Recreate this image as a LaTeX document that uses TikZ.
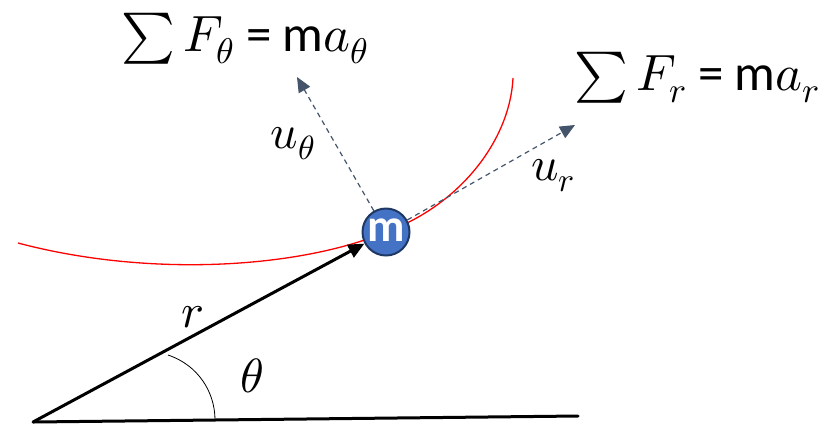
\documentclass[tikz,border=0pt]{standalone}
\usepackage{fontspec}
\usepackage{unicode-math}
\setmainfont{Carlito}
\setmathfont{Latin Modern Math}
\usetikzlibrary{arrows.meta}
\definecolor{massblue}{HTML}{4472C4}
\definecolor{massedge}{HTML}{1F3864}
\definecolor{dashcol}{HTML}{44546A}
\tikzset{
  big/.style={font=\fontsize{51}{56}\selectfont, inner sep=0pt},
  lbl/.style={font=\fontsize{48}{54}\selectfont, inner sep=0pt},
  unitvec/.style={draw=dashcol, dashed, line width=1.2pt, dash pattern=on 5pt off 4pt,
     -{Triangle[length=15pt,width=13pt,fill=dashcol]}},
  massnode/.style={circle, fill=massblue, draw=massedge, line width=2pt, minimum size=47pt, inner sep=0pt,
     text=white, font=\fontsize{46}{46}\selectfont\bfseries},
}
\begin{document}
\begin{tikzpicture}[x=1pt,y=-1pt]
\useasboundingbox (0,0) rectangle (826,424);
% path curve
\draw[red, line width=1.3pt] (18,243) .. controls (150,278) and (300,268) .. (386,232)
   .. controls (460,205) and (510,140) .. (513,78);
\coordinate (O) at (33,422);
\coordinate (H) at (578,416);
\coordinate (uthend) at (297,77);
\coordinate (urend) at (575,125);
\node[massnode] (m) at (386,232) {\raisebox{3pt}{m}};
\draw[line width=3pt, line cap=round] (O) -- (H);
\draw[line width=3pt, -{Triangle[length=16pt,width=14pt]}] (O) -- (m);
\draw[line width=0.8pt] (168,355) .. controls (198,365) and (215,392) .. (215,420);
\draw[unitvec] (m) -- (uthend);
\draw[unitvec] (m) -- (urend);
\node[big, anchor=base] (eq1) at (245,51) {$\sum F_{\theta}$ = m$a_{\theta}$};
\node[big, anchor=base] (eq2) at (697,90) {$\sum F_{r}$ = m$a_{r}$};
\node[lbl, anchor=base] (uth) at (293,148) {$u_{\theta}$};
\node[lbl, anchor=base] (ur) at (553,180) {$u_{r}$};
\node[lbl, anchor=base] (r) at (193,327) {$r$};
\node[lbl, anchor=base] (th) at (252,392) {$\theta$};
\end{tikzpicture}
\end{document}
